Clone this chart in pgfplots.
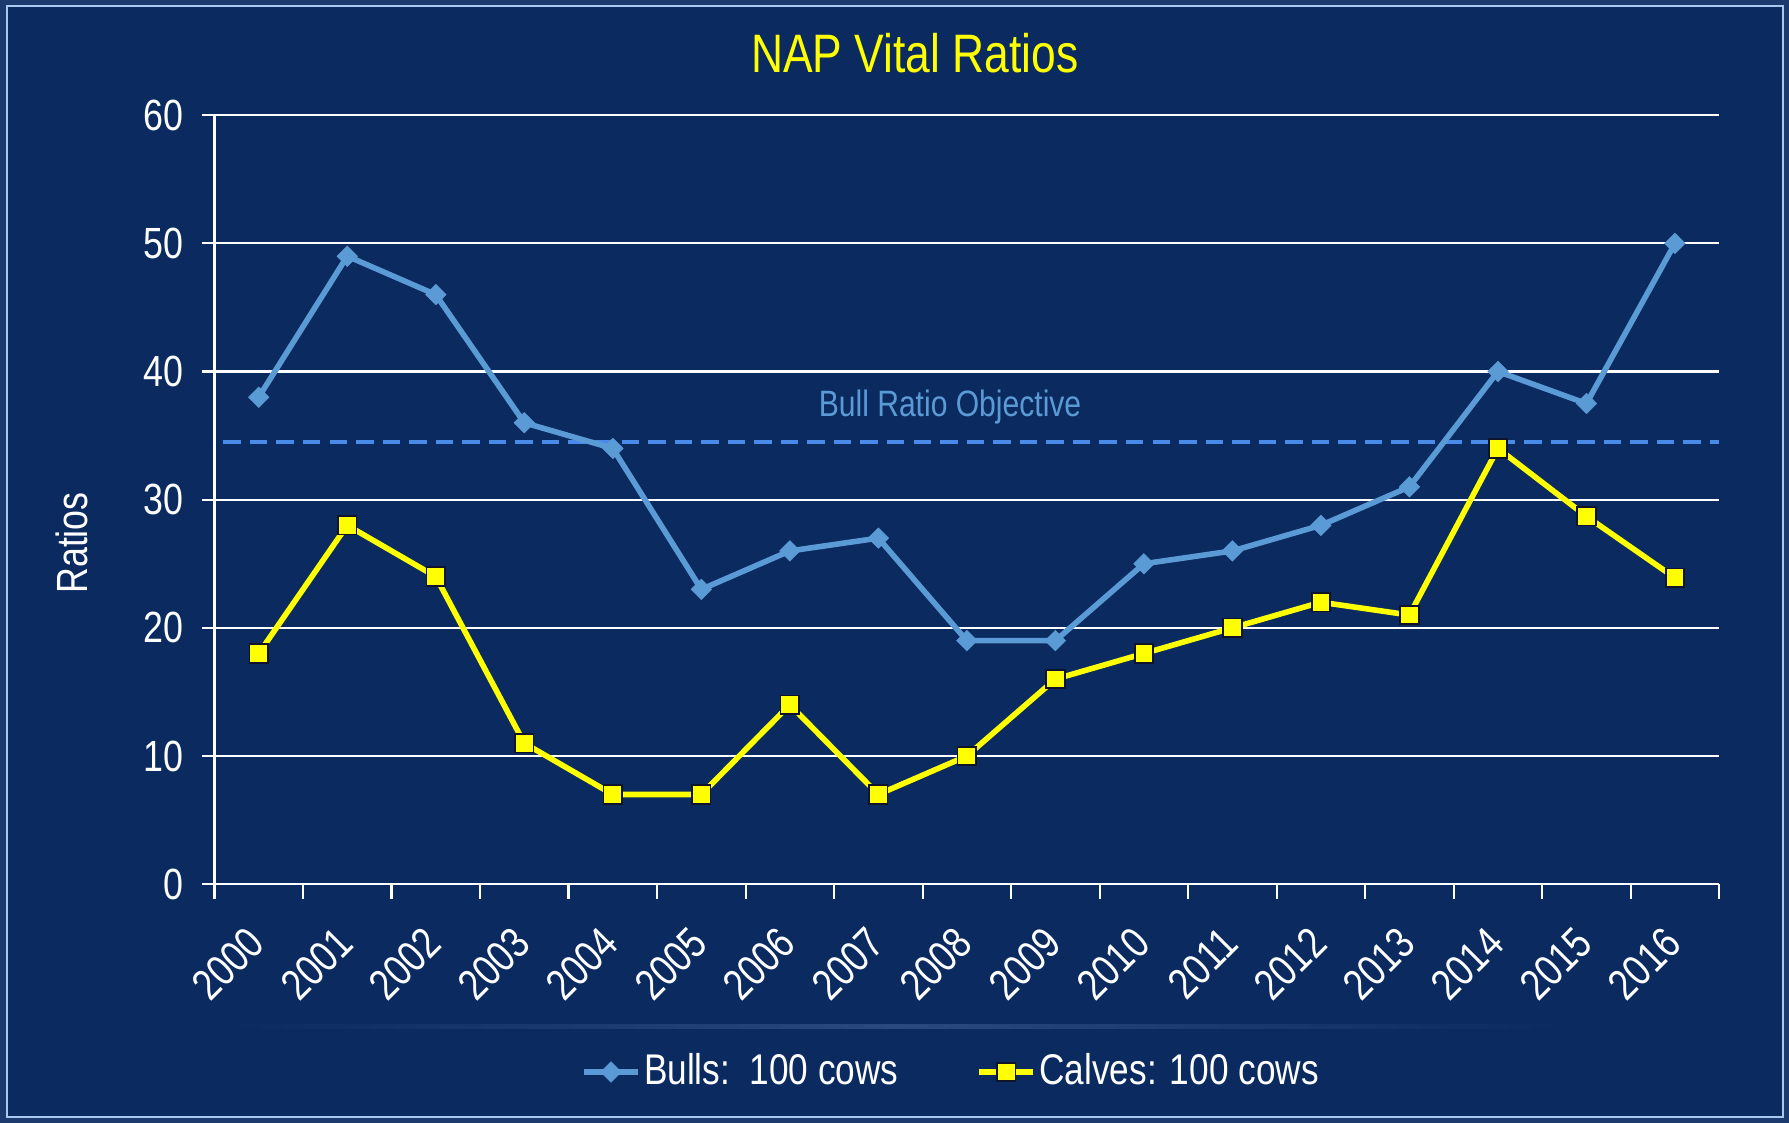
\documentclass[border=0pt]{standalone}
\usepackage{fontspec}
\setmainfont[FakeStretch=0.82]{Liberation Sans}
\usepackage{pgfplots}
\pgfplotsset{compat=1.18}

\definecolor{bgnavy}{HTML}{0A2A60}
\definecolor{outerc}{HTML}{1C3A6E}
\definecolor{framec}{HTML}{A8C8F0}
\definecolor{glowc}{HTML}{2A4A7E}
\definecolor{bullblue}{HTML}{5B9BD5}
\definecolor{objblue}{HTML}{4A8AE8}
\definecolor{calfyellow}{HTML}{FFFF00}
\definecolor{markedge}{HTML}{10142A}

\begin{document}
\begin{tikzpicture}
% slide background and frame
\fill[outerc] (0,0) rectangle (18cm,11.299cm);
\fill[bgnavy] (0.07cm,0.06cm) rectangle (17.94cm,11.239cm);
\shade[left color=bgnavy, right color=bgnavy, middle color=glowc] (2.29cm,0.95cm) rectangle (15.73cm,0.99cm);
\draw[framec, line width=0.7pt] (0.07cm,0.06cm) rectangle (17.94cm,11.239cm);

\node[text=calfyellow, font=\fontsize{15.5}{18}\selectfont] at (9.206cm,10.76cm) {NAP Vital Ratios};

\begin{axis}[
    at={(2.158cm,2.403cm)}, anchor=south west,
    scale only axis,
    width=15.14cm, height=7.737cm,
    xmin=-0.5, xmax=16.5,
    ymin=0, ymax=60,
    axis x line=bottom, axis y line=left,
    axis line style={-, white, line width=0.7pt},
    xtick={0,...,16},
    xticklabels={2000,2001,2002,2003,2004,2005,2006,2007,2008,2009,2010,2011,2012,2013,2014,2015,2016},
    minor xtick={-0.5,0.5,...,16.5},
    major x tick style={draw=none},
    minor tick length=0.15cm,
    major tick length=0.13cm,
    tick align=outside,
    tick style={white, line width=0.6pt},
    ytick={0,10,...,60},
    ymajorgrids,
    grid style={white, line width=0.6pt},
    ticklabel style={text=white, font=\fontsize{12.5}{15}\selectfont},
    xticklabel style={rotate=45, anchor=north east, yshift=0.02cm, xshift=-0.17cm},
    yticklabel style={xshift=-0.06cm},
    /pgf/number format/assume math mode=true,
    ylabel={Ratios},
    ylabel style={at={(axis description cs:-0.0947,0.4437)}, anchor=center, text=white, font=\fontsize{12.5}{15}\selectfont},
    legend columns=2,
    legend style={at={(axis description cs:0.49,-0.2443)}, anchor=center, draw=none, fill=none,
        text=white, font=\fontsize{12.3}{15}\selectfont,
        /tikz/every even column/.append style={column sep=0.75cm},
        nodes={inner xsep=1pt}},
    legend cell align=left,
    legend image code/.code={\draw[mark repeat=2, mark phase=2] plot coordinates {(0cm,0cm) (0.27cm,0cm) (0.54cm,0cm)};},
    clip=false,
]
% bull ratio objective
\addplot[objblue, line width=1.35pt, dash pattern=on 5pt off 2.6pt, forget plot] coordinates {(-0.4,34.5) (16.5,34.5)};
\node[text=bullblue, font=\fontsize{10.5}{12}\selectfont] at (axis cs:7.81,37.2) {Bull Ratio Objective};

\addplot[bullblue, line width=1.6pt, mark=square*, mark size=2.1pt,
    mark options={rotate=45, fill=bullblue, draw=bullblue, line width=0.1pt}] coordinates {
(0,38) (1,49) (2,46) (3,36) (4,34) (5,23) (6,26) (7,27) (8,19) (9,19)
(10,25) (11,26) (12,28) (13,31) (14,40) (15,37.5) (16,50)};
\addlegendentry{Bulls:~~100 cows}

\addplot[calfyellow, line width=1.6pt, mark=square*, mark size=2.65pt,
    mark options={fill=calfyellow, draw=markedge, line width=0.5pt}] coordinates {
(0,18) (1,28) (2,24) (3,11) (4,7) (5,7) (6,14) (7,7) (8,10) (9,16)
(10,18) (11,20) (12,22) (13,21) (14,34) (15,28.7) (16,23.9)};
\addlegendentry{Calves: 100 cows}
\end{axis}
\end{tikzpicture}
\end{document}
